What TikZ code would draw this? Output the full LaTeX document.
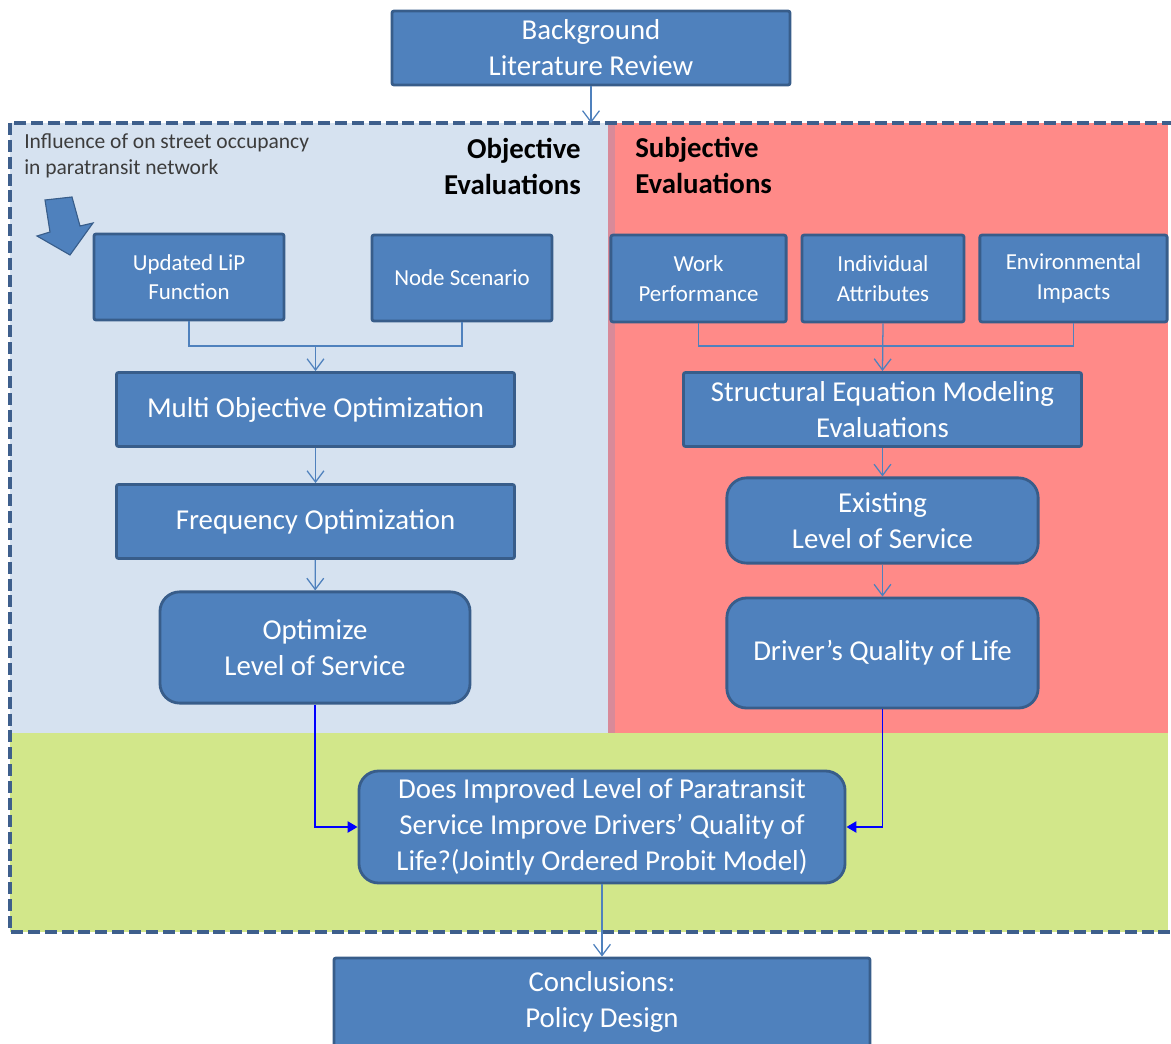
\documentclass[tikz,border=0pt]{standalone}
\usepackage{xcolor}
\usepackage{fontspec}
\setmainfont{Carlito}
\usepackage{tikz}
\usetikzlibrary{arrows.meta,positioning,calc}

\definecolor{boxfill}{HTML}{4F81BD}
\definecolor{boxline}{HTML}{385D8A}
\definecolor{objbg}{HTML}{D6E2F0}
\definecolor{subbg}{HTML}{FF8A88}
\definecolor{jointbg}{HTML}{D2E78A}
\definecolor{strip}{HTML}{D88A99}
\definecolor{frameline}{HTML}{3E5F8C}
\definecolor{notegray}{HTML}{3C3C3C}

\begin{document}
\begin{tikzpicture}[x=0.025cm,y=-0.025cm,
    box/.style={draw=boxline,fill=boxfill,line width=2pt,text=white,align=center,
        rounded corners=1.5pt,inner sep=2pt,font=\fontsize{20.5}{25.6}\selectfont},
    smallbox/.style={box,font=\fontsize{16.3}{21}\selectfont},
    roundbox/.style={box,rounded corners=14pt},
    heading/.style={font=\fontsize{20.5}{25.6}\selectfont\bfseries,inner sep=0pt},
    link/.style={draw=boxfill,line width=0.9pt},
    linkarrow/.style={link,-{Straight Barb[length=8pt,width=12pt]}},
    joinarrow/.style={draw=blue,line width=0.9pt,-{Triangle[length=7pt,width=8pt]}}]
    \useasboundingbox (0,0) rectangle (1171,1044);

    % Regions
    \fill[objbg] (10,123) rectangle (608,733);
    \fill[subbg] (608,123) rectangle (1168,733);
    \fill[strip] (608,123) rectangle (615,733);
    \fill[jointbg] (10,733) rectangle (1168,932);
    \draw[frameline,line width=2.8pt,dash pattern=on 8.5pt off 3.5pt] (10,123) rectangle (1175,932);
    \coordinate (frametop) at (591,123);

    % Headings
    \node[heading,align=right,anchor=east] (objhead) at (581,166) {Objective\\Evaluations};
    \node[heading,align=left,anchor=west] (subhead) at (635,165) {Subjective\\Evaluations};
    \node[align=left,anchor=west,inner sep=0pt,text=notegray,
        font=\fontsize{15.3}{18.5}\selectfont] (note) at (24,156)
        {Influence of on street occupancy\\in paratransit network};

    % Big arrow
    \filldraw[fill=boxfill,draw=boxline,line width=0.8pt]
        (45,200) -- (72,197) -- (80,226) -- (93,223) -- (70,255) -- (37,236) -- (50,232) -- cycle;

    % Top and bottom
    \node[box,minimum width=9.95cm,minimum height=1.85cm] (bg) at (591,48) {Background\\Literature Review};
    \node[box,minimum width=13.4cm,minimum height=2.2cm] (concl) at (602,1002) {Conclusions:\\Policy Design};

    % Objective side
    \node[smallbox,minimum width=4.75cm,minimum height=2.15cm] (lip) at (189,277) {Updated LiP\\Function};
    \node[smallbox,minimum width=4.5cm,minimum height=2.15cm] (nodesc) at (462,278) {Node Scenario};
    \node[box,minimum width=9.95cm,minimum height=1.85cm] (multi) at (315.5,409.5) {Multi Objective Optimization};
    \node[box,minimum width=9.95cm,minimum height=1.85cm] (freq) at (315.5,521.5) {Frequency Optimization};
    \node[roundbox,minimum width=7.75cm,minimum height=2.78cm] (optlos) at (315,647.5) {Optimize\\Level of Service};

    % Subjective side
    \node[smallbox,minimum width=4.38cm,minimum height=2.17cm] (work) at (698.5,278.5) {Work\\Performance};
    \node[smallbox,minimum width=4.05cm,minimum height=2.17cm] (indiv) at (883,278.5) {Individual\\Attributes};
    \node[smallbox,minimum width=4.68cm,minimum height=2.17cm] (envir) at (1073.5,278.5) {Environmental\\Impacts};
    \node[box,minimum width=9.95cm,minimum height=1.85cm] (sem) at (882.5,409.5) {Structural Equation Modeling\\Evaluations};
    \node[roundbox,minimum width=7.78cm,minimum height=2.13cm] (exist) at (882.5,520.5) {Existing\\Level of Service};
    \node[roundbox,minimum width=7.78cm,minimum height=2.75cm] (driver) at (882.5,653) {Driver’s Quality of Life};

    % Joint model
    \node[roundbox,minimum width=12.15cm,minimum height=2.8cm] (does) at (602,827)
        {Does Improved Level of Paratransit\\Service Improve Drivers’ Quality of\\Life?(Jointly Ordered Probit Model)};

    % Connectors
    \coordinate (mergeobj) at (315.5,346);
    \coordinate (mergesub) at (882.5,346);
    \draw[linkarrow] (bg.south) -- (frametop);
    \draw[link] (lip.south) |- (mergeobj);
    \draw[link] (nodesc.south) |- (mergeobj);
    \draw[linkarrow] (mergeobj) -- (multi.north);
    \draw[linkarrow] (multi) -- (freq);
    \draw[linkarrow] (freq) -- (optlos);
    \draw[link] (work.south) |- (mergesub);
    \draw[link] (envir.south) |- (mergesub);
    \draw[linkarrow] (indiv.south) -- (sem.north);
    \draw[linkarrow] (sem) -- (exist);
    \draw[linkarrow] (exist) -- (driver);
    \draw[joinarrow] (optlos.south) |- (does.west);
    \draw[joinarrow] (driver.south) |- (does.east);
    \draw[linkarrow] (does) -- (concl);
\end{tikzpicture}
\end{document}
